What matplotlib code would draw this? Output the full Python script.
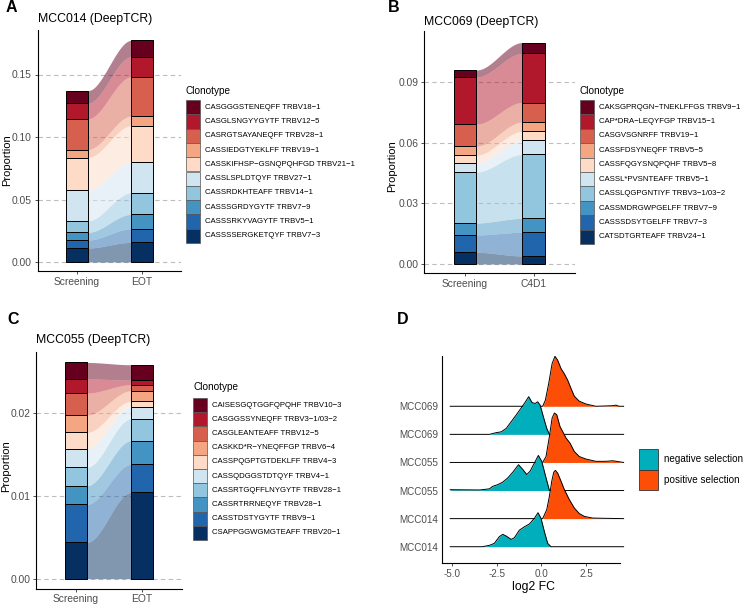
import numpy as np
import matplotlib
matplotlib.use('Agg')
import matplotlib.pyplot as plt
from matplotlib.patches import Rectangle

plt.rcParams['font.family'] = ['Liberation Sans', 'DejaVu Sans']

# ---------------- data ----------------
palette = ['#67001F', '#B2182B', '#D6604D', '#F4A582', '#FDDBC7',
           '#D1E5F0', '#92C5DE', '#4393C3', '#2166AC', '#053061']

# Panel A
clones_A = ["CASGGGSTENEQFF TRBV18−1", "CASGLSNGYYGYTF TRBV12−5", "CASRGTSAYANEQFF TRBV28−1",
            "CASSIEDGTYEKLFF TRBV19−1", "CASSKIFHSP−GSNQPQHFGD TRBV21−1", "CASSLSPLDTQYF TRBV27−1",
            "CASSRDKHTEAFF TRBV14−1", "CASSSGRDYGYTF TRBV7−9", "CASSSRKYVAGYTF TRBV5−1",
            "CASSSSERGKETQYF TRBV7−3"]
times_A = ["Screening", "EOT"]
screening_A = [0.0101, 0.0125, 0.0245, 0.0064, 0.0261, 0.0245, 0.0093, 0.0061, 0.0064, 0.0112]
eot_A = [0.0131, 0.0160, 0.0315, 0.0077, 0.0293, 0.0243, 0.0173, 0.0115, 0.0109, 0.0157]
yticks_A = [0.00, 0.05, 0.10, 0.15]

# Panel B
clones_B = ["CAKSGPRQGN−TNEKLFFGS TRBV9−1", "CAP*DRA−LEQYFGP TRBV15−1", "CASGVSGNRFF TRBV19−1",
            "CASSFDSYNEQFF TRBV5−5", "CASSFQGYSNQPQHF TRBV5−8", "CASSL*PVSNTEAFF TRBV5−1",
            "CASSLQGPGNTIYF TRBV3−1/03−2", "CASSMDRGWPGELFF TRBV7−9", "CASSSDSYTGELFF TRBV7−3",
            "CATSDTGRTEAFF TRBV24−1"]
times_B = ["Screening", "C4D1"]
screening_B = [0.0035, 0.0233, 0.0109, 0.0045, 0.0040, 0.0043, 0.0253, 0.0059, 0.0086, 0.0058]
c4d1_B = [0.0054, 0.0243, 0.0097, 0.0046, 0.0045, 0.0069, 0.0317, 0.0069, 0.0117, 0.0040]
yticks_B = [0.00, 0.03, 0.06, 0.09]

# Panel C
clones_C = ["CAISESGQTGGFQPQHF TRBV10−3", "CASGGSSYNEQFF TRBV3−1/03−2", "CASGLEANTEAFF TRBV12−5",
            "CASKKD*R−YNEQFFGP TRBV6−4", "CASSPQGPTGTDEKLFF TRBV4−3", "CASSQDGGSTDTQYF TRBV4−1",
            "CASSRTGQFFLNYGYTF TRBV28−1", "CASSRTRRNEQYF TRBV28−1", "CASSTDSTYGYTF TRBV9−1",
            "CSAPPGGWGMGTEAFF TRBV20−1"]
times_C = ["Screening", "EOT"]
screening_C = [0.00200, 0.00170, 0.00266, 0.00210, 0.00200, 0.00222, 0.00222, 0.00226, 0.00460, 0.00440]
eot_C = [0.00185, 0.00056, 0.00073, 0.00129, 0.00065, 0.00145, 0.00266, 0.00286, 0.00339, 0.01044]
yticks_C = [0.00, 0.01, 0.02]

# Panel D (ridgelines, bottom row first): curve heights
ridge_labels = ["MCC014", "MCC014", "MCC055", "MCC055", "MCC069", "MCC069"]
ridge_groups = ["negative selection", "positive selection"] * 3
group_colors = {"negative selection": "#00AFBB", "positive selection": "#FC4E07"}

r1_x = [-5.1, -3.3, -2.9, -2.63, -2.35, -2.16, -1.97, -1.69, -1.51, -1.23, -0.95, -0.67, -0.39, -0.19, -0.02, 0.17, 0.35, 0.54, 4.6]
r1_h = [0, 0, 0.05, 0.12, 0.36, 0.44, 0.38, 0.26, 0.32, 0.59, 0.71, 0.81, 1.01, 1.21, 1.01, 0.53, 0.12, 0, 0]
r2_x = [-5.1, 0.07, 0.13, 0.30, 0.45, 0.58, 0.69, 0.78, 0.91, 1.10, 1.28, 1.56, 1.84, 2.12, 2.40, 2.87, 3.61, 4.6]
r2_h = [0, 0, 0.08, 0.32, 0.80, 1.33, 1.65, 1.72, 1.62, 1.33, 1.04, 0.68, 0.38, 0.18, 0.08, 0.02, 0.01, 0]
r3_x = [-5.1, -3.46, -2.91, -2.72, -2.44, -2.16, -1.88, -1.60, -1.28, -1.04, -0.82, -0.63, -0.39, -0.17, 0.02, 0.26, 0.45, 4.6]
r3_h = [0.03, 0.02, 0.06, 0.15, 0.21, 0.30, 0.45, 0.65, 0.92, 0.75, 0.57, 0.69, 0.98, 1.25, 1.04, 0.45, 0, 0]
r4_x = [-5.1, 0.07, 0.26, 0.45, 0.60, 0.73, 0.86, 1.04, 1.19, 1.38, 1.60, 1.84, 2.12, 2.50, 3.05, 3.61, 3.99, 4.6]
r4_h = [0, 0, 0.21, 0.93, 1.58, 1.76, 1.70, 1.28, 1.10, 0.87, 0.69, 0.39, 0.21, 0.12, 0.04, 0.04, 0.06, 0]
r5_x = [-5.1, -2.91, -2.53, -2.25, -1.97, -1.69, -1.41, -1.14, -0.89, -0.71, -0.52, -0.34, -0.21, -0.07, 0.11, 0.30, 0.45, 4.6]
r5_h = [0, 0, 0.06, 0.09, 0.21, 0.45, 0.69, 0.93, 1.16, 1.34, 1.13, 1.10, 1.16, 1.04, 0.63, 0.21, 0, 0]
r6_x = [-5.1, 0.07, 0.22, 0.41, 0.60, 0.76, 0.91, 1.10, 1.28, 1.47, 1.66, 1.84, 2.12, 2.50, 3.05, 3.99, 4.17, 4.35, 4.6]
r6_h = [0, 0, 0.21, 0.81, 1.52, 1.78, 1.64, 1.34, 1.16, 0.93, 0.63, 0.36, 0.18, 0.08, 0, 0.02, 0.04, 0, 0]
ridge_x = [r1_x, r2_x, r3_x, r4_x, r5_x, r6_x]
ridge_h = [r1_h, r2_h, r3_h, r4_h, r5_h, r6_h]
xticks_D = [-5.0, -2.5, 0.0, 2.5]

# ---------------- layout helpers ----------------
W, H = 750, 609
fig = plt.figure(figsize=(7.5, 6.09), dpi=100)


def fx(x):
    return x / W


def fy(y):
    return 1 - y / H


def add_ax(left, top, right, bottom):
    return fig.add_axes([fx(left), fy(bottom), (right - left) / W, (bottom - top) / H])


TICK_COL = '#333333'
LAB_COL = '#4D4D4D'


def alluvial(ax, v1, v2):
    w = 1 / 3
    n = len(v1)
    b1 = 0.0
    b2 = 0.0
    t = np.linspace(0, 1, 80)
    s = t * t * (3 - 2 * t)
    xs = (1 + w / 2) + (1 - w) * t
    for i in range(n - 1, -1, -1):
        col = palette[i]
        ax.bar(1, v1[i], bottom=b1, width=w, color=col, edgecolor='black', linewidth=0.7, zorder=3)
        ax.bar(2, v2[i], bottom=b2, width=w, color=col, edgecolor='black', linewidth=0.7, zorder=3)
        lo = b1 + (b2 - b1) * s
        hi = (b1 + v1[i]) + ((b2 + v2[i]) - (b1 + v1[i])) * s
        ax.fill_between(xs, lo, hi, color=col, alpha=0.5, lw=0, zorder=2)
        b1 += v1[i]
        b2 += v2[i]


def style_axes(ax, xlim, ylim, yticks, times, fmt):
    ax.set_xlim(*xlim)
    ax.set_ylim(*ylim)
    for s in ['top', 'right']:
        ax.spines[s].set_visible(False)
    for s in ['left', 'bottom']:
        ax.spines[s].set_linewidth(0.8)
        ax.spines[s].set_color('black')
    ax.set_yticks(yticks)
    ax.set_yticklabels([fmt.format(v) for v in yticks])
    ax.set_xticks([1, 2])
    ax.set_xticklabels(times)
    ax.tick_params(axis='both', color=TICK_COL, labelcolor=LAB_COL, labelsize=7.4,
                   length=2.5, width=0.6, pad=1.5)
    ax.yaxis.grid(True, linestyle=(0, (4, 3)), color='#BDBDBD', lw=0.8)
    ax.set_axisbelow(True)


def legend(title, names, title_x, title_y, box_x, box_top, box_w, box_h, text_x):
    fig.text(fx(title_x), fy(title_y), title, fontsize=7.2, ha='left', va='center')
    for i, nm in enumerate(names):
        top = box_top + i * box_h
        fig.patches.append(Rectangle((fx(box_x), fy(top + box_h)), box_w / W, box_h / H,
                                     transform=fig.transFigure, facecolor=palette[i],
                                     edgecolor='#555555', lw=0.5))
        fig.text(fx(text_x), fy(top + box_h / 2), nm, fontsize=5.6, ha='left', va='center')


# ---------------- Panel A ----------------
axA = add_ax(37.5, 30, 181, 271)
alluvial(axA, screening_A, eot_A)
style_axes(axA, (0.392, 2.6), (-0.0072, 0.1856), yticks_A, times_A, '{:.2f}')
fig.text(fx(38), fy(19), "MCC014 (DeepTCR)", fontsize=8.8, ha='left', va='center')
fig.text(fx(6), fy(8), "A", fontsize=11.5, fontweight='bold', ha='left', va='center')
fig.text(fx(7), fy(160), "Proportion", fontsize=8, rotation=90, ha='center', va='center')
legend("Clonotype", clones_A, 186, 91, 186, 100, 14, 14.3, 205)

# ---------------- Panel B ----------------
axB = add_ax(424, 31, 574.6, 273.3)
alluvial(axB, screening_B, c4d1_B)
style_axes(axB, (0.40, 2.6), (-(273.3 - 264) / 2018.7, (264 - 31) / 2018.7), yticks_B, times_B, '{:.2f}')
fig.text(fx(424), fy(21.5), "MCC069 (DeepTCR)", fontsize=8.8, ha='left', va='center')
fig.text(fx(388), fy(8), "B", fontsize=11.5, fontweight='bold', ha='left', va='center')
fig.text(fx(392), fy(166), "Proportion", fontsize=8, rotation=90, ha='center', va='center')
legend("Clonotype", clones_B, 580, 91, 580, 100, 13.5, 14.4, 599)

# ---------------- Panel C ----------------
axC = add_ax(36, 352, 181.6, 588.7)
alluvial(axC, screening_C, eot_C)
style_axes(axC, (0.394, 2.6), (-(588.7 - 578.7) / 8267, (578.7 - 352) / 8267), yticks_C, times_C, '{:.2f}')
fig.text(fx(36), fy(340), "MCC055 (DeepTCR)", fontsize=8.8, ha='left', va='center')
fig.text(fx(7), fy(320), "C", fontsize=11.5, fontweight='bold', ha='left', va='center')
fig.text(fx(6), fy(466), "Proportion", fontsize=8, rotation=90, ha='center', va='center')
legend("Clonotype", clones_C, 193, 387, 193, 398, 14, 14.2, 212)

# ---------------- Panel D ----------------
axD = add_ax(442, 356, 624.5, 563)
for r in range(5, -1, -1):
    base = r + 1
    xr = np.array(ridge_x[r])
    hr = np.array(ridge_h[r])
    z = 10 + 2 * (5 - r)
    axD.fill_between(xr, base, base + hr, color=group_colors[ridge_groups[r]], lw=0, zorder=z)
    axD.plot(xr, base + hr, color='black', lw=0.7, zorder=z + 1, solid_joinstyle='round')
axD.set_xlim(-5.56, 4.65)
axD.set_ylim(0.42, 7.79)
for s in ['top', 'right']:
    axD.spines[s].set_visible(False)
for s in ['left', 'bottom']:
    axD.spines[s].set_linewidth(0.8)
    axD.spines[s].set_color('black')
axD.spines['bottom'].set_bounds(-5.56, 4.4)
axD.set_yticks(range(1, 7))
axD.set_yticklabels(ridge_labels)
axD.set_xticks(xticks_D)
axD.set_xticklabels(['{:.1f}'.format(v) for v in xticks_D])
axD.tick_params(axis='y', length=0, pad=2.5, labelsize=7.1, labelcolor=LAB_COL)
axD.tick_params(axis='x', length=2.5, width=0.6, color=TICK_COL, pad=1.5, labelsize=7.1, labelcolor=LAB_COL)
axD.set_xlabel("log2 FC", fontsize=8.8, labelpad=2)
fig.text(fx(397), fy(320), "D", fontsize=11.5, fontweight='bold', ha='left', va='center')

# legend D
for i, g in enumerate(["negative selection", "positive selection"]):
    top = 449 + i * 20.5
    fig.patches.append(Rectangle((fx(639), fy(top + 20.5)), 19 / W, 20.5 / H, transform=fig.transFigure,
                                 facecolor=group_colors[g], edgecolor='#333333', lw=0.6))
    fig.text(fx(664), fy(top + 10.25), g, fontsize=7.1, ha='left', va='center')

fig.savefig('out.png', dpi=100)
